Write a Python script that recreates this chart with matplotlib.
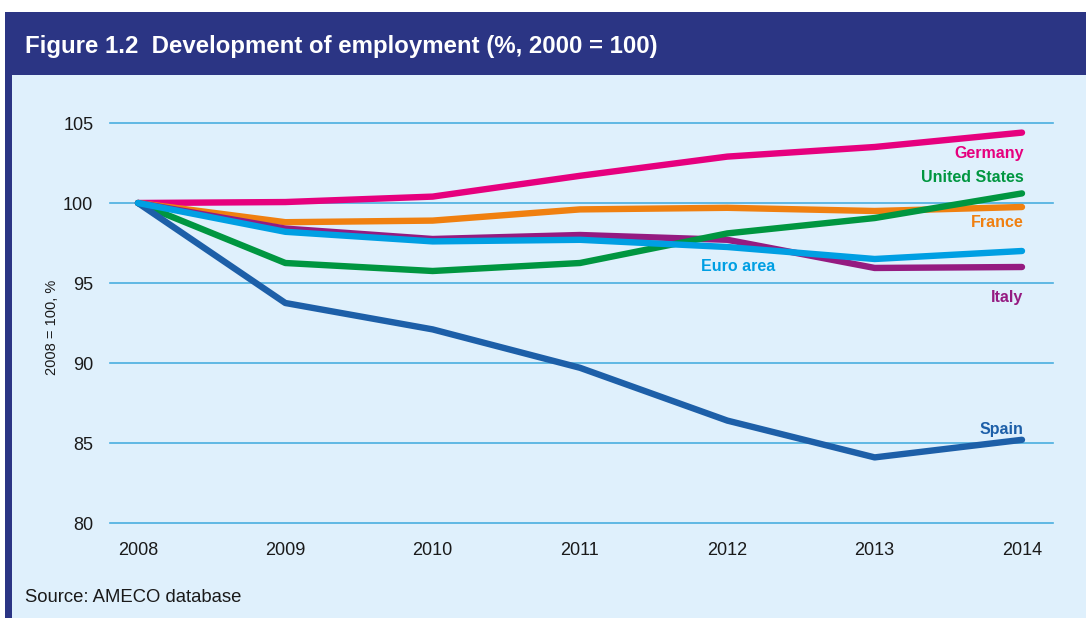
import matplotlib
matplotlib.use("Agg")
import matplotlib.pyplot as plt
from matplotlib.patches import Rectangle

# Data (2008 = 100)
years = [2008, 2009, 2010, 2011, 2012, 2013, 2014]
germany = [100, 100.06, 100.4, 101.7, 102.9, 103.5, 104.4]
france = [100, 98.8, 98.9, 99.6, 99.7, 99.5, 99.75]
united_states = [100, 96.25, 95.75, 96.25, 98.1, 99.06, 100.6]
italy = [100, 98.4, 97.75, 98.0, 97.7, 95.94, 96.0]
euro_area = [100, 98.2, 97.6, 97.7, 97.25, 96.5, 97.0]
spain = [100, 93.75, 92.1, 89.7, 86.4, 84.1, 85.2]
yticks = [80, 85, 90, 95, 100, 105]

navy = '#2b3584'
panel = '#dff0fc'
grid_col = '#4aaee0'

series = [
    ('Germany', germany, '#e6007e'),
    ('France', france, '#f08010'),
    ('Italy', italy, '#951b81'),
    ('United States', united_states, '#009640'),
    ('Spain', spain, '#1d5fa8'),
    ('Euro area', euro_area, '#009fe3'),
]

W, H = 1086, 618
fig = plt.figure(figsize=(W / 100, H / 100), dpi=100)
fig.patch.set_facecolor('white')

# frame: header band, left border, light panel
fig.patches.append(Rectangle((5 / W, 0), 1 - 5 / W, 1 - 12 / H, transform=fig.transFigure,
                             facecolor=navy, edgecolor='none', zorder=-2))
fig.patches.append(Rectangle((12 / W, 0), 1 - 12 / W, 1 - 75 / H, transform=fig.transFigure,
                             facecolor=panel, edgecolor='none', zorder=-1))
fig.text(25 / W, 1 - 46 / H, 'Figure 1.2  Development of employment (%, 2000 = 100)',
         color='white', fontsize=17.3, fontweight='bold', family='Liberation Sans',
         va='center', ha='left')

ax = fig.add_axes([110 / W, 1 - 523 / H, (1053 - 110) / W, (523 - 123) / H])
ax.set_facecolor('none')
for s in ax.spines.values():
    s.set_visible(False)

ax.set_xlim(2008 - 28 / 147.3, 2014 + 31 / 147.3)
ax.set_ylim(80, 105)
ax.set_yticks(yticks)
ax.set_xticks(years)
for y in yticks:
    ax.axhline(y, color=grid_col, lw=1.2, zorder=1, clip_on=False)
ax.tick_params(length=0, labelsize=13, colors='#1a1a1a')
ax.tick_params(axis='y', pad=12)
ax.tick_params(axis='x', pad=14)
for lab in ax.get_xticklabels() + ax.get_yticklabels():
    lab.set_family('Liberation Sans')

for name, vals, col in series:
    ax.plot(years, vals, color=col, lw=4.6, solid_capstyle='round',
            solid_joinstyle='round', zorder=3, clip_on=False)

# direct labels
lab_kw = dict(fontsize=11.5, fontweight='bold', family='Liberation Sans', ha='right', va='center')
ax.text(2014.01, 103.1, 'Germany', color='#e6007e', **lab_kw)
ax.text(2014.01, 101.6, 'United States', color='#009640', **lab_kw)
ax.text(2014.01, 98.8, 'France', color='#f08010', **lab_kw)
ax.text(2014.01, 94.1, 'Italy', color='#951b81', **lab_kw)
ax.text(2014.01, 85.87, 'Spain', color='#1d5fa8', **lab_kw)
ax.text(2012.07, 96.06, 'Euro area', color='#009fe3', fontsize=11.5, fontweight='bold',
        family='Liberation Sans', ha='center', va='center')

fig.text(52 / W, 1 - 327 / H, '2008 = 100, %', rotation=90, fontsize=10.5,
         family='Liberation Sans', color='#1a1a1a', ha='center', va='center')
fig.text(25 / W, 1 - 597 / H, 'Source: AMECO database', fontsize=13.3,
         family='Liberation Sans', color='#1a1a1a', ha='left', va='center')

fig.savefig('out.png', dpi=100, facecolor=fig.get_facecolor())
